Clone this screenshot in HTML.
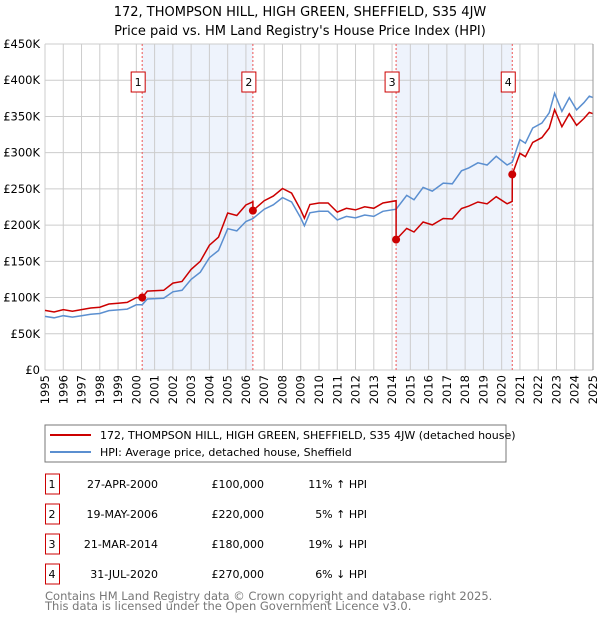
<!DOCTYPE html>
<html><head><meta charset="utf-8"><style>
body{margin:0;background:#fff;font-family:"DejaVu Sans","Liberation Sans",sans-serif;}
svg text{font-family:"DejaVu Sans","Liberation Sans",sans-serif;}
</style></head><body>
<svg id="c" width="600" height="620" xmlns="http://www.w3.org/2000/svg">
<text x="300" y="16" text-anchor="middle" font-size="13">172, THOMPSON HILL, HIGH GREEN, SHEFFIELD, S35 4JW</text>
<text x="300" y="35" text-anchor="middle" font-size="13">Price paid vs. HM Land Registry's House Price Index (HPI)</text>
<g id="plot"></g>
<rect x="45" y="425" width="461" height="37" fill="#fff" stroke="#777"/>
<line x1="50" y1="435" x2="91" y2="435" stroke="#cc0000" stroke-width="2"/>
<text x="100" y="439" font-size="11">172, THOMPSON HILL, HIGH GREEN, SHEFFIELD, S35 4JW (detached house)</text>
<line x1="50" y1="452" x2="91" y2="452" stroke="#5b8fd0" stroke-width="2"/>
<text x="100" y="456" font-size="11">HPI: Average price, detached house, Sheffield</text>
<g id="table" font-size="11"></g>
<text x="45" y="600" font-size="11.5" fill="#777">Contains HM Land Registry data © Crown copyright and database right 2025.</text>
<text x="45" y="610" font-size="11.5" fill="#777">This data is licensed under the Open Government Licence v3.0.</text>
</svg>
<script>
const hpiYears=[1995,1995.5,1996,1996.5,1997,1997.5,1998,1998.5,1999,1999.5,2000,2000.32,2000.6,2001.5,2002,2002.5,2003,2003.5,2004,2004.5,2005,2005.5,2006,2006.38,2007,2007.5,2008,2008.5,2009,2009.2,2009.5,2010,2010.5,2011,2011.5,2012,2012.5,2013,2013.5,2014.22,2014.8,2015.2,2015.7,2016.2,2016.8,2017.3,2017.8,2018.2,2018.7,2019.2,2019.7,2020.3,2020.58,2021.0,2021.3,2021.7,2022.2,2022.6,2022.9,2023.3,2023.7,2024.1,2024.5,2024.8,2025.0];
const hpiValues=[74,72,75,73,75,77,78,82,83,84,90,90,98,99,108,110,125,135,155,165,195,192,205,209,222,228,238,232,210,199,217,219,219,207,212,210,214,212,219,222,241,235,252,247,258,257,275,279,286,283,295,283,287,318,313,334,341,355,382,357,376,359,369,378,376];
const saleLabels=["1","2","3","4"];
const saleYears=[2000.32,2006.38,2014.22,2020.58];
const salePrices=[100,220,180,270];
const saleDates=["27-APR-2000","19-MAY-2006","21-MAR-2014","31-JUL-2020"];
const salePriceText=["£100,000","£220,000","£180,000","£270,000"];
const saleDiffs=["11% ↑ HPI","5% ↑ HPI","19% ↓ HPI","6% ↓ HPI"];
const yTicks=[0,50,100,150,200,250,300,350,400,450];
const yTickLabels=["£0","£50K","£100K","£150K","£200K","£250K","£300K","£350K","£400K","£450K"];
const xTicks=[1995,1996,1997,1998,1999,2000,2001,2002,2003,2004,2005,2006,2007,2008,2009,2010,2011,2012,2013,2014,2015,2016,2017,2018,2019,2020,2021,2022,2023,2024,2025];

const NS="http://www.w3.org/2000/svg";
const X0=45,X1=593,Y0=370,Y1=44;
const xs=y=>X0+(y-1995)/(2025-1995)*(X1-X0);
const ys=v=>Y0-v/450*(Y0-Y1);
function mk(tag,attrs,parent){const e=document.createElementNS(NS,tag);for(const k in attrs)e.setAttribute(k,attrs[k]);parent.appendChild(e);return e;}
function hpiAt(t){for(let i=1;i<hpiYears.length;i++){if(t<=hpiYears[i]){const a=hpiYears[i-1],b=hpiYears[i];return hpiValues[i-1]+(hpiValues[i]-hpiValues[i-1])*(t-a)/(b-a);}}return hpiValues[hpiValues.length-1];}
const plot=document.getElementById('plot');
for(const [a,b] of [[0,1],[2,3]]){
 const r=mk('rect',{x:xs(saleYears[a]),y:Y1,width:xs(saleYears[b])-xs(saleYears[a]),height:Y0-Y1,fill:'#eef3fc'},plot);
 
 
}
xTicks.forEach((t,i)=>{
 const l=mk('line',{x1:xs(t),x2:xs(t),y1:Y1,y2:Y0,stroke:'#ccc','stroke-width':1},plot);
 
 
 const tx=mk('text',{x:0,y:0,'font-size':11.5,'text-anchor':'end',transform:`translate(${xs(t)+4},${Y0+5}) rotate(-90)`},plot);
 tx.textContent=String(t);
 
 
});
yTicks.forEach((v,i)=>{
 const l=mk('line',{x1:X0,x2:X1,y1:ys(v),y2:ys(v),stroke:'#ccc','stroke-width':1},plot);
 
 
 const tx=mk('text',{x:40,y:ys(v)+4,'font-size':11.5,'text-anchor':'end'},plot);
 tx.textContent=yTickLabels[i];
 
 
});
saleYears.forEach((t,i)=>{
 const l=mk('line',{x1:xs(t),x2:xs(t),y1:Y1,y2:Y0,stroke:'#e55','stroke-width':1,'stroke-dasharray':'2,2'},plot);
 
 
 const bx=mk('rect',{x:xs(t)-11,y:72,width:14,height:20,fill:'#fff',stroke:'#cc0000'},plot);
 
 
 const tx=mk('text',{x:xs(t)-4,y:86,'font-size':11,'text-anchor':'middle'},plot);
 tx.textContent=saleLabels[i];
 
 
});
let d='';hpiYears.forEach((t,i)=>{d+=(i?'L':'M')+xs(t).toFixed(1)+','+ys(hpiValues[i]).toFixed(1);});
const hl=mk('path',{d:d,fill:'none',stroke:'#5b8fd0','stroke-width':1.5},plot);


function propAt(t){let k=0;for(let i=0;i<saleYears.length;i++)if(t>=saleYears[i])k=i;return salePrices[k]*hpiAt(t)/hpiAt(saleYears[k]);}
const pts=[];hpiYears.forEach(t=>pts.push(t));saleYears.forEach(t=>{pts.push(t-0.001);pts.push(t);});pts.sort((a,b)=>a-b);
let d2='';pts.forEach((t,i)=>{d2+=(i?'L':'M')+xs(t).toFixed(1)+','+ys(propAt(t)).toFixed(1);});
const pl=mk('path',{d:d2,fill:'none',stroke:'#cc0000','stroke-width':1.5},plot);


saleYears.forEach((t,i)=>{
 const c=mk('circle',{cx:xs(t),cy:ys(salePrices[i]),r:4,fill:'#cc0000'},plot);
 
 
});
mk('line',{x1:X1,x2:X1,y1:Y1,y2:Y0,stroke:'#999','stroke-width':1},plot);
const tb=document.getElementById('table');
saleLabels.forEach((s,i)=>{
 const y=483+i*30;
 const b=mk('rect',{x:45.5,y:y-9,width:14,height:20,fill:'#fff',stroke:'#cc0000'},tb);
 
 
 const cols=[[52,s,'middle'],[158,saleDates[i],'end'],[264,salePriceText[i],'end'],[367,saleDiffs[i],'end']];
 cols.forEach(([x,txt,a],j)=>{
  const t=mk('text',{x:x,y:y+5,'text-anchor':a},tb);
  t.textContent=txt;
  
  
 });
});
</script>
</body></html>
